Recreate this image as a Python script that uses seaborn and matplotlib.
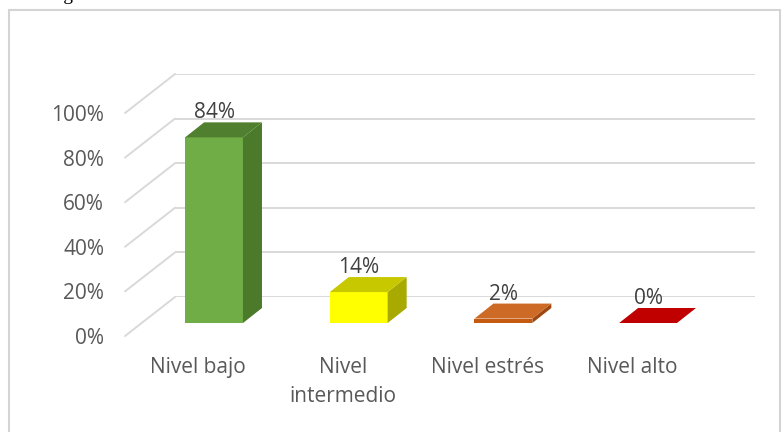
import matplotlib
matplotlib.use("Agg")
import matplotlib.pyplot as plt
import pandas as pd
import seaborn as sns
from matplotlib.patches import Polygon, Rectangle
from matplotlib.lines import Line2D
from matplotlib.transforms import IdentityTransform

# Data
categories = ["Nivel bajo", "Nivel\nintermedio", "Nivel estrés", "Nivel alto"]
values = [84, 14, 2, 0]
value_labels = ["84%", "14%", "2%", "0%"]
tick_values = [0, 20, 40, 60, 80, 100]
tick_labels = ["0%", "20%", "40%", "60%", "80%", "100%"]

# Face colours of the 3-D columns (front, top, right side)
front_colors = ["#70AD47", "#FFFF00", "#C55A11", "#C00000"]
top_colors = ["#4F7F2F", "#C8C800", "#CD6A26", "#C00000"]
side_colors = ["#4A7A2A", "#A8AA00", "#9C4810", "#8C0000"]

W, H, DPI = 782, 432, 100
DEPTH = (19, 15)          # column depth in pixels (right, up)
GRID = "#D9D9D9"
TEXT = "#595959"
FS = 15

sns.set_theme(style="white")
plt.rcParams["font.family"] = ["Open Sans", "DejaVu Sans"]

fig = plt.figure(figsize=(W / DPI, H / DPI), dpi=DPI)
fig.patch.set_facecolor("white")


def box(left, top, right, bottom):
    """Axes rectangle from pixel edges measured from the top-left corner."""
    return [left / W, 1 - bottom / H, (right - left) / W, (bottom - top) / H]


# Back wall with horizontal gridlines
ax_wall = fig.add_axes(box(175, 74, 755, 297), zorder=0)
ax_wall.set_xlim(0, 1)
ax_wall.set_ylim(0, 100)
ax_wall.set_yticks(tick_values)
ax_wall.yaxis.grid(True, color=GRID, linewidth=1.4)
ax_wall.tick_params(left=False, labelleft=False, bottom=False, labelbottom=False)
sns.despine(ax=ax_wall, left=True, bottom=True)
ax_wall.patch.set_visible(False)

# Front edge of the side wall, carrying the value axis labels
ax_lab = fig.add_axes(box(125, 113, 175, 336), zorder=0)
ax_lab.set_xlim(0, 1)
ax_lab.set_ylim(0, 100)
ax_lab.set_yticks(tick_values)
ax_lab.set_yticklabels(tick_labels)
ax_lab.tick_params(axis="y", length=0, pad=15, labelsize=FS, labelcolor=TEXT)
ax_lab.tick_params(axis="x", bottom=False, labelbottom=False)
sns.despine(ax=ax_lab, left=True, bottom=True)
ax_lab.patch.set_visible(False)

# Side wall gridlines joining the label edge to the back wall
for v in tick_values:
    (x0, y0) = ax_lab.transData.transform((0, v))
    (x1, y1) = ax_wall.transData.transform((0, v))
    fig.add_artist(Line2D([x0, x1], [y0, y1], transform=IdentityTransform(),
                          color=GRID, linewidth=1.4, zorder=0.5))

# Front plane of the columns
ax = fig.add_axes(box(141.7, 102, 720.4, 323), zorder=1)
df = pd.DataFrame({"nivel": categories, "pct": values})
sns.barplot(data=df, x="nivel", y="pct", hue="nivel", palette=front_colors,
            width=0.4, saturation=1, legend=False, ax=ax)
ax.set_xlim(-0.5, 3.5)
ax.set_ylim(0, 100)
ax.axis("off")

bars = sorted(ax.patches, key=lambda p: p.get_x())
dx, dy = DEPTH
for i, bar in enumerate(bars):
    bar.set_edgecolor("none")
    x0 = bar.get_x()
    x1 = x0 + bar.get_width()
    h = bar.get_height()
    (px0, py0), (px1, py1) = ax.transData.transform([(x0, 0), (x1, h)])
    side = [(px1, py0), (px1, py1), (px1 + dx, py1 + dy), (px1 + dx, py0 + dy)]
    top = [(px0, py1), (px1, py1), (px1 + dx, py1 + dy), (px0 + dx, py1 + dy)]
    ax.add_patch(Polygon(side, closed=True, transform=IdentityTransform(),
                         facecolor=side_colors[i], edgecolor="none", clip_on=False))
    ax.add_patch(Polygon(top, closed=True, transform=IdentityTransform(),
                         facecolor=top_colors[i], edgecolor="none", clip_on=False))

    xc = x0 + bar.get_width() / 2
    ax.annotate(value_labels[i], xy=(xc, h), xytext=(0, 19),
                textcoords="offset pixels", ha="center", va="baseline",
                fontsize=FS, color="#404040", annotation_clip=False)
    ax.annotate(categories[i], xy=(xc, 0), xytext=(-16, -34),
                textcoords="offset pixels", ha="center", va="top",
                multialignment="center", linespacing=1.5,
                fontsize=FS, color=TEXT, annotation_clip=False)

# Chart frame
fig.add_artist(Rectangle((9 / W, -0.05), (780 - 9) / W, (H - 10) / H + 0.05,
                         transform=fig.transFigure, fill=False,
                         edgecolor="#D4D4D4", linewidth=1.5))

# Caption running above the frame
fig.text(47 / W, 1 + 0.5 / H, "Figura", family="Liberation Serif",
         fontsize=14, va="baseline", color="black")

fig.savefig("out.png", dpi=DPI)
